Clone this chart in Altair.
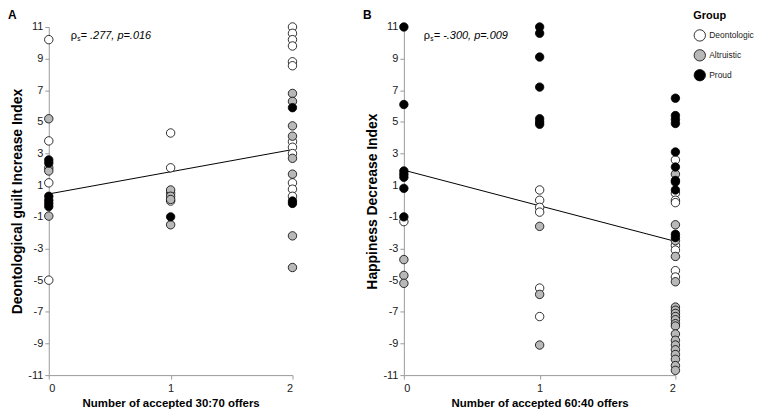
import altair as alt
import pandas as pd

FONT = "Liberation Sans"

groups = ["Deontologic", "Altruistic", "Proud"]
group_fills = ["#ffffff", "#b8b8b8", "#000000"]
x_ticks = [0, 1, 2]
y_ticks = [-11, -9, -7, -5, -3, -1, 1, 3, 5, 7, 9, 11]

# ---- Panel A: Deontological guilt Increase Index vs accepted 30:70 offers
a_x0_deon = [10.2, 3.8, 1.15, -5.0]
a_x0_altr = [5.2, 2.1, 1.9, -0.95]
a_x0_prou = [2.6, 2.4, 0.3, 0.05, -0.15, -0.35]
a_x1_deon = [4.3, 2.1, 0.5, 0.0]
a_x1_altr = [0.7, 0.3, 0.1, -1.5]
a_x1_prou = [-1.0]
a_x2_deon = [11.0, 10.6, 10.2, 9.8, 8.8, 8.55, 3.75, 3.4, 3.0, 1.15, 0.75, 0.3]
a_x2_altr = [6.8, 6.3, 4.75, 4.1, 2.7, 1.7, -2.2, -4.2]
a_x2_prou = [5.9, 0.0, -0.15]

# ---- Panel B: Happiness Decrease Index vs accepted 60:40 offers
b_x0_deon = [-1.3]
b_x0_altr = [-3.7, -4.7, -5.2]
b_x0_prou = [11.0, 6.1, 1.9, 1.7, 1.5, 0.8, -1.0]
b_x1_deon = [0.7, 0.05, -0.4, -0.7, -5.5, -7.3]
b_x1_altr = [-1.6, -5.9, -9.1]
b_x1_prou = [11.0, 10.6, 9.1, 7.2, 5.2, 5.0, 4.85]
b_x2_deon = [2.6, 0.5, 0.05, -0.1, -2.8, -3.1, -4.4, -4.8]
b_x2_altr = [1.7, -1.5, -2.5, -3.5, -5.1, -6.7, -6.9, -7.1, -7.3, -7.5, -7.75,
             -7.9, -8.4, -8.8, -9.1, -9.4, -9.7, -10.0, -10.4, -10.7]
b_x2_prou = [6.5, 5.4, 5.15, 4.9, 3.1, 2.15, 1.3, 1.2, 0.7, -2.1, -2.3]

# regression lines (end points)
fit_x = [0, 2]
fit_a = [0.45, 3.25]
fit_b = [1.95, -2.55]


def frame(parts):
    rows = []
    for x, g, vals in parts:
        for v in vals:
            rows.append({"x": x, "y": v, "group": g})
    return pd.DataFrame(rows)


df_a = frame([
    (0, "Deontologic", a_x0_deon), (0, "Altruistic", a_x0_altr), (0, "Proud", a_x0_prou),
    (1, "Deontologic", a_x1_deon), (1, "Altruistic", a_x1_altr), (1, "Proud", a_x1_prou),
    (2, "Deontologic", a_x2_deon), (2, "Altruistic", a_x2_altr), (2, "Proud", a_x2_prou),
])
df_b = frame([
    (0, "Deontologic", b_x0_deon), (0, "Altruistic", b_x0_altr), (0, "Proud", b_x0_prou),
    (1, "Deontologic", b_x1_deon), (1, "Altruistic", b_x1_altr), (1, "Proud", b_x1_prou),
    (2, "Deontologic", b_x2_deon), (2, "Altruistic", b_x2_altr), (2, "Proud", b_x2_prou),
])

color = alt.Color(
    "group:N",
    scale=alt.Scale(domain=groups, range=group_fills),
    legend=alt.Legend(title="Group", orient="none", legendX=648, legendY=-17),
)


def panel(df, fit_y, ytitle, xtitle, letter, rho_text, width, rho_x):
    xs = alt.Scale(domain=[0, 2], nice=False, zero=False)
    ys = alt.Scale(domain=[-11, 11], nice=False, zero=False)
    xax = alt.Axis(values=x_ticks, labelExpr="'' + datum.value", title=xtitle,
                   labelPadding=3, titlePadding=5, titleFontSize=11.5,
                   labelOverlap=False)
    yax = alt.Axis(values=y_ticks, labelExpr="'' + datum.value", title=ytitle,
                   labelPadding=2, titlePadding=3, titleFontSize=14,
                   labelOverlap=False)
    line = alt.Chart(pd.DataFrame({"x": fit_x, "y": fit_y})).mark_line(
        color="black", strokeWidth=1
    ).encode(x=alt.X("x:Q", scale=xs, axis=xax), y=alt.Y("y:Q", scale=ys, axis=yax))
    pts = alt.Chart(df).mark_circle(
        size=72, stroke="black", strokeWidth=0.8, opacity=1
    ).encode(x=alt.X("x:Q", scale=xs, axis=xax), y=alt.Y("y:Q", scale=ys, axis=yax), color=color)
    lab = alt.Chart(pd.DataFrame({"t": [letter]})).mark_text(
        font=FONT, fontWeight="bold", fontSize=12, align="left", baseline="top"
    ).encode(text="t:N", x=alt.value(-41), y=alt.value(-17))
    rho = alt.Chart(pd.DataFrame({"t": ["ρ"]})).mark_text(
        font=FONT, fontSize=11, align="left", baseline="alphabetic"
    ).encode(text="t:N", x=alt.value(rho_x), y=alt.value(12))
    sub = alt.Chart(pd.DataFrame({"t": ["s"]})).mark_text(
        font=FONT, fontSize=6.5, align="left", baseline="alphabetic"
    ).encode(text="t:N", x=alt.value(rho_x + 6.5), y=alt.value(14))
    stat = alt.Chart(pd.DataFrame({"t": [rho_text]})).mark_text(
        font=FONT, fontSize=11, fontStyle="italic", align="left", baseline="alphabetic"
    ).encode(text="t:N", x=alt.value(rho_x + 10), y=alt.value(12))
    return alt.layer(line, pts, lab, rho, sub, stat).properties(width=width, height=350)


pa = panel(df_a, fit_a, "Deontological guilt Increase Index",
           "Number of accepted 30:70 offers", "A", "= .277, p=.016", 245, 22)
pb = panel(df_b, fit_b, "Happiness Decrease Index",
           "Number of accepted 60:40 offers", "B", "= -.300, p=.009", 273, 20)

chart = alt.hconcat(pa, pb, spacing=112, bounds="flush").properties(
    padding=0
).configure_view(stroke=None).configure_axis(
    grid=False, labelFont=FONT, titleFont=FONT, labelFontSize=11,
    labelColor="#1a1a1a", titleColor="#000000", titleFontWeight="bold",
    domainColor="#9a9a9a", tickColor="#9a9a9a", tickSize=4, domainWidth=1,
).configure_legend(
    titleFont=FONT, labelFont=FONT, titleFontSize=11, titleFontWeight="bold",
    labelFontSize=8.5, labelColor="#1a1a1a", symbolType="circle", symbolSize=130,
    symbolStrokeColor="black", symbolStrokeWidth=0.8, rowPadding=5,
    titlePadding=8, padding=0, labelOffset=3,
)

chart.save("out.html", embed_options={"renderer": "svg", "actions": False})
